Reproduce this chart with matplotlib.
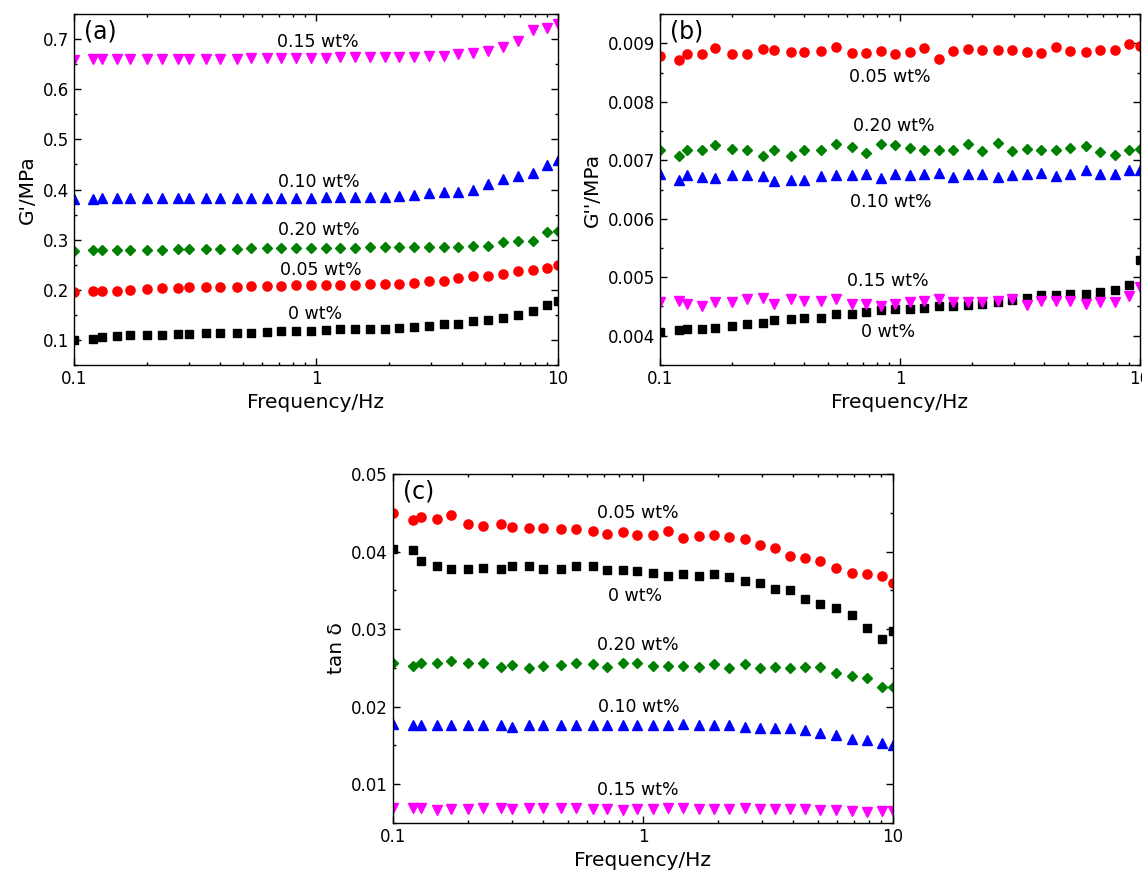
import matplotlib
matplotlib.use("Agg")
import matplotlib.pyplot as plt
from matplotlib.ticker import MultipleLocator, FixedLocator, LogLocator, NullFormatter, FixedFormatter

plt.rcParams['font.family'] = ['DejaVu Sans']

# frequency sweep (Hz)
freq = [0.1, 0.12, 0.13, 0.15, 0.17, 0.2, 0.23, 0.27, 0.3, 0.35, 0.4, 0.47,
        0.54, 0.63, 0.72, 0.83, 0.95, 1.1, 1.26, 1.45, 1.67, 1.92, 2.2, 2.55,
        2.93, 3.37, 3.88, 4.46, 5.13, 5.94, 6.83, 7.85, 9.02, 10]

# storage modulus G' (MPa)
gp_0 = [0.100, 0.101, 0.105, 0.107, 0.109, 0.110, 0.110, 0.112, 0.112, 0.113, 0.114, 0.114,
        0.114, 0.115, 0.117, 0.118, 0.118, 0.119, 0.121, 0.121, 0.121, 0.121, 0.123, 0.125,
        0.127, 0.131, 0.132, 0.137, 0.140, 0.143, 0.149, 0.157, 0.170, 0.177]
gp_005 = [0.195, 0.197, 0.197, 0.198, 0.199, 0.201, 0.203, 0.204, 0.205, 0.205, 0.205, 0.206,
          0.207, 0.207, 0.208, 0.209, 0.209, 0.209, 0.209, 0.209, 0.211, 0.211, 0.212, 0.213,
          0.217, 0.218, 0.223, 0.227, 0.228, 0.232, 0.238, 0.239, 0.243, 0.249]
gp_010 = [0.381, 0.382, 0.383, 0.383, 0.383, 0.383, 0.383, 0.383, 0.383, 0.383, 0.383, 0.383,
          0.383, 0.384, 0.384, 0.384, 0.384, 0.385, 0.385, 0.385, 0.385, 0.386, 0.388, 0.390,
          0.393, 0.395, 0.395, 0.399, 0.411, 0.421, 0.427, 0.432, 0.449, 0.458]
gp_015 = [0.658, 0.660, 0.660, 0.660, 0.660, 0.660, 0.660, 0.661, 0.661, 0.661, 0.661, 0.661,
          0.662, 0.662, 0.662, 0.663, 0.663, 0.663, 0.664, 0.664, 0.664, 0.665, 0.665, 0.665,
          0.666, 0.666, 0.670, 0.673, 0.677, 0.685, 0.697, 0.719, 0.722, 0.731]
gp_020 = [0.278, 0.279, 0.279, 0.279, 0.279, 0.280, 0.280, 0.281, 0.281, 0.282, 0.282, 0.282,
          0.283, 0.283, 0.283, 0.283, 0.283, 0.284, 0.284, 0.284, 0.285, 0.285, 0.285, 0.286,
          0.286, 0.286, 0.286, 0.287, 0.287, 0.296, 0.297, 0.298, 0.315, 0.318]

# loss modulus G'' (MPa)
gpp_0 = [0.00406, 0.00409, 0.00411, 0.00411, 0.00413, 0.00417, 0.00420, 0.00422, 0.00427, 0.00429,
         0.00431, 0.00431, 0.00437, 0.00438, 0.00440, 0.00444, 0.00445, 0.00446, 0.00447, 0.00451,
         0.00451, 0.00453, 0.00454, 0.00457, 0.00461, 0.00465, 0.00469, 0.00470, 0.00471, 0.00471,
         0.00474, 0.00478, 0.00487, 0.00529]
gpp_005 = [0.00879, 0.00872, 0.00882, 0.00882, 0.00892, 0.00882, 0.00882, 0.00891, 0.00889, 0.00885,
           0.00885, 0.00886, 0.00893, 0.00883, 0.00883, 0.00887, 0.00882, 0.00885, 0.00892, 0.00873,
           0.00886, 0.00890, 0.00889, 0.00889, 0.00889, 0.00885, 0.00883, 0.00894, 0.00887, 0.00885,
           0.00889, 0.00889, 0.00899, 0.00895]
gpp_010 = [0.00677, 0.00667, 0.00674, 0.00671, 0.00669, 0.00674, 0.00674, 0.00673, 0.00665, 0.00667,
           0.00666, 0.00673, 0.00674, 0.00674, 0.00676, 0.00669, 0.00676, 0.00675, 0.00677, 0.00678,
           0.00671, 0.00677, 0.00677, 0.00672, 0.00674, 0.00677, 0.00678, 0.00673, 0.00677, 0.00684,
           0.00676, 0.00676, 0.00684, 0.00684]
gpp_015 = [0.00457, 0.00460, 0.00454, 0.00451, 0.00458, 0.00457, 0.00462, 0.00464, 0.00454, 0.00463,
           0.00460, 0.00459, 0.00463, 0.00454, 0.00454, 0.00451, 0.00454, 0.00457, 0.00460, 0.00463,
           0.00457, 0.00458, 0.00458, 0.00460, 0.00463, 0.00453, 0.00459, 0.00459, 0.00459, 0.00454,
           0.00457, 0.00457, 0.00468, 0.00483]
gpp_020 = [0.00717, 0.00707, 0.00718, 0.00718, 0.00726, 0.00719, 0.00718, 0.00707, 0.00717, 0.00707,
           0.00718, 0.00718, 0.00727, 0.00722, 0.00713, 0.00728, 0.00726, 0.00721, 0.00717, 0.00718,
           0.00717, 0.00728, 0.00715, 0.00729, 0.00715, 0.00720, 0.00718, 0.00718, 0.00721, 0.00725,
           0.00714, 0.00709, 0.00717, 0.00719]

# loss factor tan delta
tan_0 = [0.0404, 0.0402, 0.0388, 0.0382, 0.0378, 0.0378, 0.0379, 0.0377, 0.0381, 0.0382,
         0.0378, 0.0378, 0.0382, 0.0381, 0.0376, 0.0376, 0.0375, 0.0373, 0.0368, 0.0371,
         0.0368, 0.0371, 0.0367, 0.0362, 0.0360, 0.0352, 0.0351, 0.0339, 0.0332, 0.0327,
         0.0318, 0.0302, 0.0287, 0.0297]
tan_005 = [0.0450, 0.0441, 0.0444, 0.0442, 0.0447, 0.0435, 0.0433, 0.0435, 0.0432, 0.0431,
           0.0430, 0.0429, 0.0429, 0.0426, 0.0423, 0.0425, 0.0421, 0.0421, 0.0426, 0.0418,
           0.0420, 0.0421, 0.0419, 0.0416, 0.0409, 0.0405, 0.0394, 0.0392, 0.0388, 0.0379,
           0.0373, 0.0371, 0.0369, 0.0359]
tan_010 = [0.0178, 0.0176, 0.0177, 0.0176, 0.0176, 0.0177, 0.0177, 0.0177, 0.0174, 0.0176,
           0.0176, 0.0177, 0.0177, 0.0177, 0.0177, 0.0176, 0.0177, 0.0177, 0.0177, 0.0178,
           0.0177, 0.0177, 0.0176, 0.0174, 0.0173, 0.0173, 0.0173, 0.0170, 0.0166, 0.0163,
           0.0159, 0.0157, 0.0153, 0.0151]
tan_015 = [0.0069, 0.0069, 0.0069, 0.0067, 0.0068, 0.0068, 0.0069, 0.0070, 0.0068, 0.0069,
           0.0069, 0.0069, 0.0069, 0.0068, 0.0068, 0.0067, 0.0068, 0.0068, 0.0069, 0.0069,
           0.0068, 0.0068, 0.0068, 0.0069, 0.0068, 0.0068, 0.0068, 0.0068, 0.0067, 0.0067,
           0.0066, 0.0064, 0.0065, 0.0066]
tan_020 = [0.0257, 0.0253, 0.0256, 0.0256, 0.0259, 0.0257, 0.0256, 0.0251, 0.0254, 0.0250,
           0.0253, 0.0254, 0.0256, 0.0255, 0.0251, 0.0257, 0.0256, 0.0253, 0.0252, 0.0252,
           0.0251, 0.0255, 0.0250, 0.0255, 0.0250, 0.0251, 0.0250, 0.0251, 0.0251, 0.0244,
           0.0240, 0.0237, 0.0226, 0.0226]

# marker style per loading: (marker, colour, size)
styles = {
    "0":    ("s", "black", 5.4),
    "0.05": ("o", "red", 6.6),
    "0.10": ("^", "blue", 7.0),
    "0.15": ("v", "magenta", 7.0),
    "0.20": ("D", "green", 4.6),
}

# label positions (frequency, value) for each curve
labels_a = {"0.15": (1.02, 0.695), "0.10": (1.03, 0.415), "0.20": (1.03, 0.319),
            "0.05": (1.05, 0.239), "0": (0.99, 0.152)}
labels_b = {"0.05": (0.91, 0.00842), "0.20": (0.94, 0.00759), "0.10": (0.92, 0.00629),
            "0.15": (0.89, 0.00493), "0": (0.89, 0.00406)}
labels_c = {"0.05": (0.95, 0.0450), "0": (0.93, 0.0343), "0.20": (0.95, 0.0279),
            "0.10": (0.96, 0.0200), "0.15": (0.95, 0.0093)}


def style_axes(ax, ylim, ymajor, yminor, yfmt, ylabel, tag):
    ax.set_xscale("log")
    ax.set_xlim(0.1, 10)
    ax.set_ylim(*ylim)
    ax.xaxis.set_major_locator(FixedLocator([0.1, 1, 10]))
    ax.xaxis.set_major_formatter(FixedFormatter(["0.1", "1", "10"]))
    ax.xaxis.set_minor_locator(LogLocator(base=10, subs=range(2, 10)))
    ax.xaxis.set_minor_formatter(NullFormatter())
    ax.yaxis.set_major_locator(MultipleLocator(ymajor))
    ax.yaxis.set_minor_locator(MultipleLocator(yminor))
    ax.yaxis.set_major_formatter(plt.FuncFormatter(lambda v, p: yfmt.format(v)))
    ax.tick_params(which="both", direction="in", top=True, right=True, labelsize=12)
    ax.tick_params(which="major", length=5, width=1)
    ax.tick_params(which="minor", length=2.5, width=1)
    for sp in ax.spines.values():
        sp.set_linewidth(1.0)
    ax.set_xlabel("Frequency/Hz", fontsize=14.5)
    ax.set_ylabel(ylabel, fontsize=14.5)
    ax.text(0.02, 0.985, tag, transform=ax.transAxes, fontsize=17, va="top", ha="left")


def draw(ax, series, labels):
    for key, vals in series:
        m, c, s = styles[key]
        ax.plot(freq, vals, linestyle="none", marker=m, color=c, markersize=s)
    for key, (x, y) in labels.items():
        ax.text(x, y, f"{key} wt%", fontsize=12.5, ha="center", va="center")


fig = plt.figure(figsize=(11.42, 8.81), dpi=100)
ax_a = fig.add_axes([0.0648, 0.5857, 0.4238, 0.3984])
ax_b = fig.add_axes([0.5779, 0.5857, 0.4203, 0.3984])
ax_c = fig.add_axes([0.3441, 0.0658, 0.4378, 0.3961])

draw(ax_a, [("0", gp_0), ("0.05", gp_005), ("0.10", gp_010), ("0.15", gp_015), ("0.20", gp_020)], labels_a)
style_axes(ax_a, (0.05, 0.75), 0.1, 0.05, "{:.1f}", "G'/MPa", "(a)")

draw(ax_b, [("0", gpp_0), ("0.05", gpp_005), ("0.10", gpp_010), ("0.15", gpp_015), ("0.20", gpp_020)], labels_b)
style_axes(ax_b, (0.0035, 0.0095), 0.001, 0.0005, "{:.3f}", "G''/MPa", "(b)")

draw(ax_c, [("0", tan_0), ("0.05", tan_005), ("0.10", tan_010), ("0.15", tan_015), ("0.20", tan_020)], labels_c)
style_axes(ax_c, (0.005, 0.05), 0.01, 0.005, "{:.2f}", "tan δ", "(c)")

fig.savefig("out.png", dpi=100)
